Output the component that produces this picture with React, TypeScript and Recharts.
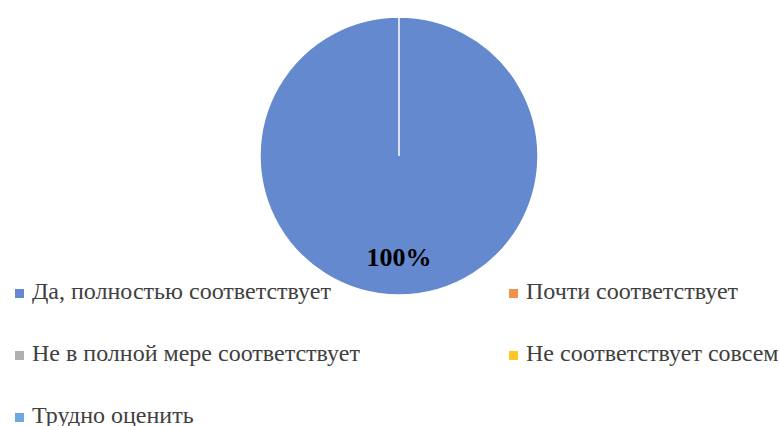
import React from 'react';
import { PieChart, Pie, Cell, Legend } from 'recharts';

const categories = [
  'Да, полностью соответствует',
  'Почти соответствует',
  'Не в полной мере соответствует',
  'Не соответствует совсем',
  'Трудно оценить',
];
const values = [100, 0, 0, 0, 0];
const colors = ['#6489CF', '#F0914E', '#B0B0B0', '#FFC726', '#6FA8DC'];

const data = categories.map((name, i) => ({ name, value: values[i] }));
const total = values.reduce((a, b) => a + b, 0);

const FONT = 'Liberation Serif';
const RAD = Math.PI / 180;

const renderLabel = (props: any) => {
  const { cx, cy, midAngle, outerRadius, value } = props;
  if (!value) return null;
  const r = outerRadius * 0.73;
  const x = cx + r * Math.cos(-midAngle * RAD);
  const y = cy + r * Math.sin(-midAngle * RAD);
  return (
    <text
      x={x}
      y={y}
      textAnchor="middle"
      dominantBaseline="central"
      fill="#000"
      fontFamily={FONT}
      fontWeight="bold"
      fontSize={26}
    >
      {Math.round((value / total) * 100)}%
    </text>
  );
};

// legend rows/cols (centre y of each entry)
const legendSpots = [
  { left: 15, top: 291 },
  { left: 509, top: 291 },
  { left: 15, top: 353 },
  { left: 509, top: 353 },
  { left: 15, top: 415 },
];

const renderLegend = () => (
  <div style={{ position: 'relative', width: 779, height: 426 }}>
    {categories.map((name, i) => (
      <div
        key={name}
        style={{
          position: 'absolute',
          left: legendSpots[i].left,
          top: legendSpots[i].top - 14,
          height: 28,
          lineHeight: '28px',
          whiteSpace: 'nowrap',
          fontFamily: FONT,
          fontSize: 24,
          color: '#404040',
        }}
      >
        <span
          style={{
            display: 'inline-block',
            width: 9,
            height: 9,
            background: colors[i],
            marginRight: 8,
            verticalAlign: 'middle',
          }}
        />
        {name}
      </div>
    ))}
  </div>
);

export default function App() {
  return (
    <div style={{ position: 'absolute', left: 0, top: 0, width: 779, height: 426, background: '#fff' }}>
      <PieChart width={779} height={426} margin={{ top: 0, right: 0, bottom: 0, left: 0 }}>
        <Pie
          data={data}
          dataKey="value"
          nameKey="name"
          cx={399}
          cy={156}
          outerRadius={139}
          startAngle={90}
          endAngle={-270}
          stroke="#fff"
          strokeWidth={1.5}
          label={renderLabel}
          labelLine={false}
          isAnimationActive={false}
        >
          {data.map((d, i) => (
            <Cell key={d.name} fill={colors[i]} />
          ))}
        </Pie>
        <Legend
          content={renderLegend}
          wrapperStyle={{ position: 'absolute', left: 0, top: 0, width: 779, height: 426 }}
        />
      </PieChart>
    </div>
  );
}
